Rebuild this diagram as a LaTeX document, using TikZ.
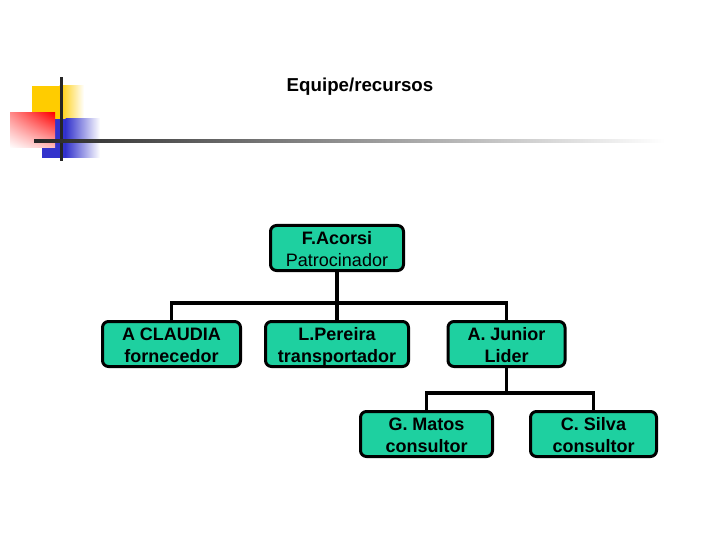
\documentclass[tikz,border=0pt]{standalone}
\usepackage{fontspec}
\setmainfont{Liberation Sans}
\usetikzlibrary{positioning,calc,shadings}
\definecolor{boxgreen}{RGB}{30,208,160}
\definecolor{logoyellow}{RGB}{255,204,0}
\definecolor{logoblue}{RGB}{51,51,204}
\newcommand{\boxtext}[2]{\rule{0pt}{18pt}#1\\#2\rule[-4pt]{0pt}{4pt}}
\tikzset{
  person/.style={draw=black,line width=3pt,rounded corners=6pt,fill=boxgreen,
    minimum height=45pt,inner sep=0pt,align=center,
    font=\bfseries\fontsize{18}{22}\selectfont},
  link/.style={line width=3.3pt}
}

\begin{document}
\begin{tikzpicture}[x=1pt,y=-1pt]
    \useasboundingbox[fill=white] (0,0) rectangle (720,540);
    % logo
    \fill[logoyellow] (32,86) rectangle (60,119);
    \shade[left color=logoyellow,right color=white] (59.5,86) rectangle (84,119);
    \fill[logoblue] (42,119) rectangle (66,158);
    \shade[left color=logoblue,right color=white] (65.5,119) rectangle (100,158);
    \shade[upper left=red!45,upper right=red,lower left=white,lower right=red!25] (10,113) rectangle (55,148);
    \fill[black!85] (60,77) rectangle (62.5,161);
    \shade[left color=black!85,right color=white] (34,139.5) rectangle (665,142.5);
    \node[font=\bfseries\fontsize{18.7}{22}\selectfont,anchor=base] (title) at (360,91.5) {Equipe/recursos};
    % boxes
    \node[person,minimum width=133pt] (sponsor) at (337,248) {\boxtext{F.Acorsi}{\mdseries Patrocinador}};
    \node[person,minimum width=138pt] (claudia) at (171.5,344) {\boxtext{A CLAUDIA}{fornecedor}};
    \node[person,minimum width=143pt] (pereira) at (337,344) {\boxtext{L.Pereira}{transportador}};
    \node[person,minimum width=117pt] (junior) at (506.5,344) {\boxtext{A. Junior}{Lider}};
    \node[person,minimum width=132pt] (matos) at (426.5,434) {\boxtext{G. Matos}{consultor}};
    \node[person,minimum width=126pt] (silva) at (593.5,434) {\boxtext{C. Silva}{consultor}};
    % connectors
    \coordinate (bus1) at (337,303);
    \coordinate (bus2) at (506.5,393);
    \draw[link] (sponsor.south) -- (pereira.north);
    \draw[link] (claudia.north) |- (bus1) -| (junior.north);
    \draw[link] (junior.south) -- (bus2);
    \draw[link] (matos.north) |- (bus2) -| (silva.north);
  \end{tikzpicture}
\end{document}
